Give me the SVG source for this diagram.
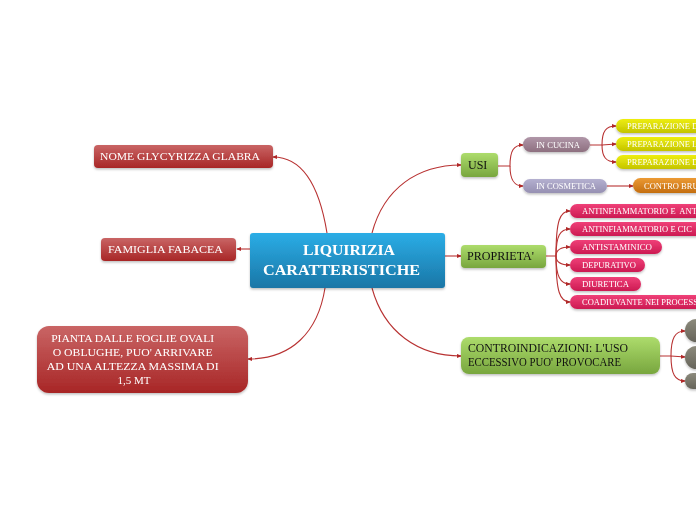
<svg xmlns="http://www.w3.org/2000/svg" width="696" height="520" viewBox="0 0 696 520">
<defs>
<linearGradient id="gBlue" x1="0" y1="0" x2="0" y2="1"><stop offset="0" stop-color="#2bade6"/><stop offset="1" stop-color="#1a76a6"/></linearGradient>
<linearGradient id="gRed" x1="0" y1="0" x2="0" y2="1"><stop offset="0" stop-color="#c96565"/><stop offset="1" stop-color="#a82626"/></linearGradient>
<linearGradient id="gGreen" x1="0" y1="0" x2="0" y2="1"><stop offset="0" stop-color="#addc6c"/><stop offset="1" stop-color="#78a63e"/></linearGradient>
<linearGradient id="gMauve" x1="0" y1="0" x2="0" y2="1"><stop offset="0" stop-color="#b096a8"/><stop offset="1" stop-color="#8e7080"/></linearGradient>
<linearGradient id="gLav" x1="0" y1="0" x2="0" y2="1"><stop offset="0" stop-color="#b4b0d0"/><stop offset="1" stop-color="#9690b2"/></linearGradient>
<linearGradient id="gYel" x1="0" y1="0" x2="0" y2="1"><stop offset="0" stop-color="#eeee10"/><stop offset="1" stop-color="#c4c400"/></linearGradient>
<linearGradient id="gOr" x1="0" y1="0" x2="0" y2="1"><stop offset="0" stop-color="#ec9a34"/><stop offset="1" stop-color="#c46e10"/></linearGradient>
<linearGradient id="gPink" x1="0" y1="0" x2="0" y2="1"><stop offset="0" stop-color="#ef4078"/><stop offset="1" stop-color="#cc1a52"/></linearGradient>
<linearGradient id="gGray" x1="0" y1="0" x2="0" y2="1"><stop offset="0" stop-color="#8c8a7c"/><stop offset="1" stop-color="#66645a"/></linearGradient>
<filter id="sh" x="-10%" y="-20%" width="120%" height="160%"><feDropShadow dx="0" dy="1.5" stdDeviation="1" flood-color="#000" flood-opacity="0.25"/></filter>
<marker id="arr" viewBox="0 0 6 6" refX="5" refY="3" markerWidth="5" markerHeight="5" orient="auto" markerUnits="userSpaceOnUse"><path d="M0,0.5 L6,3 L0,5.5 z" fill="#b02828"/></marker>
</defs>
<style>
.c{fill:none;stroke:#b83232;stroke-width:1.1;marker-end:url(#arr)}
.t{font-family:"Liberation Serif","DejaVu Serif",serif}
.w{fill:#fff}
.k{fill:#111}
.s{font-size:8.5px}
.m{font-size:11px}
</style>
<rect width="696" height="520" fill="#fff"/>
<g id="connectors">
<path class="c" d="M327,233 C320,190 305,157 273,157"/>
<path class="c" d="M250,249 L237,249"/>
<path class="c" d="M325,288 C318,332 292,359 248,359"/>
<path class="c" d="M372,233 C384,188 418,165 461,165"/>
<path class="c" d="M445,256 L461,256"/>
<path class="c" d="M372,288 C384,332 418,356 461,356"/>
<path class="c" d="M498,166 L510,166 C510,150 514,145 523,145"/>
<path class="c" d="M510,166 C510,180 514,186 523,186"/>
<path class="c" d="M590,145 L602,145 C602,131 606,126 616,126"/>
<path class="c" d="M602,145 L616,144"/>
<path class="c" d="M602,145 C602,157 606,162 616,162"/>
<path class="c" d="M607,186 L633,186"/>
<path class="c" d="M546,256 L556,256 C556,220 560,211 570,211"/>
<path class="c" d="M556,256 C556,236 560,229 570,229"/>
<path class="c" d="M556,256 C556,250 560,247 570,247"/>
<path class="c" d="M556,256 C556,262 560,265 570,265"/>
<path class="c" d="M556,256 C556,276 560,284 570,284"/>
<path class="c" d="M556,256 C556,292 560,302 570,302"/>
<path class="c" d="M660,356 L671,356 C671,338 675,331 685,331"/>
<path class="c" d="M671,356 L685,357"/>
<path class="c" d="M671,356 C671,374 675,381 685,381"/>
</g>
<g id="central" filter="url(#sh)">
<rect x="250" y="233" width="195" height="55" rx="3" fill="url(#gBlue)"/>
<text class="t w" x="349" y="255" text-anchor="middle" font-size="15" font-weight="bold" textLength="92" lengthAdjust="spacingAndGlyphs">LIQUIRIZIA</text>
<text class="t w" x="263" y="275" font-size="15" font-weight="bold" textLength="157" lengthAdjust="spacingAndGlyphs">CARATTERISTICHE</text>
</g>
<g id="nome" filter="url(#sh)">
<rect x="94" y="145" width="179" height="23" rx="4" fill="url(#gRed)"/>
<text class="t w m" x="100" y="160" textLength="160" lengthAdjust="spacingAndGlyphs">NOME GLYCYRIZZA GLABRA</text>
</g>
<g id="famiglia" filter="url(#sh)">
<rect x="101" y="238" width="135" height="23" rx="4" fill="url(#gRed)"/>
<text class="t w m" x="108" y="253" textLength="115" lengthAdjust="spacingAndGlyphs">FAMIGLIA FABACEA</text>
</g>
<g id="pianta" filter="url(#sh)">
<rect x="37" y="326" width="211" height="67" rx="12" fill="url(#gRed)"/>
<text class="t w m" text-anchor="middle">
<tspan x="134" y="342" textLength="163" lengthAdjust="spacingAndGlyphs">PIANTA DALLE FOGLIE OVALI</tspan>
<tspan x="134" y="356" textLength="160" lengthAdjust="spacingAndGlyphs">O  OBLUGHE, PUO' ARRIVARE</tspan>
<tspan x="134" y="370" textLength="172" lengthAdjust="spacingAndGlyphs">AD UNA ALTEZZA MASSIMA DI</tspan>
<tspan x="134" y="384" textLength="33" lengthAdjust="spacingAndGlyphs">1,5 MT</tspan>
</text>
</g>
<g id="usi" filter="url(#sh)">
<rect x="461" y="153" width="37" height="24" rx="4" fill="url(#gGreen)"/>
<text class="t k" x="468" y="169" font-size="12">USI</text>
</g>
<g id="proprieta" filter="url(#sh)">
<rect x="461" y="245" width="85" height="23" rx="4" fill="url(#gGreen)"/>
<text class="t k" x="467" y="260" font-size="12" textLength="67" lengthAdjust="spacingAndGlyphs">PROPRIETA'</text>
</g>
<g id="controindicazioni" filter="url(#sh)">
<rect x="461" y="337" width="199" height="37" rx="8" fill="url(#gGreen)"/>
<text class="t k" font-size="12">
<tspan x="468" y="352" textLength="160" lengthAdjust="spacingAndGlyphs">CONTROINDICAZIONI: L'USO</tspan>
<tspan x="468" y="366" textLength="153" lengthAdjust="spacingAndGlyphs">ECCESSIVO PUO' PROVOCARE</tspan>
</text>
</g>
<g id="in-cucina" filter="url(#sh)">
<rect x="523" y="137" width="67" height="15" rx="7.5" fill="url(#gMauve)"/>
<text class="t w s" x="536" y="148" textLength="44" lengthAdjust="spacingAndGlyphs">IN CUCINA</text>
</g>
<g id="in-cosmetica" filter="url(#sh)">
<rect x="523" y="179" width="84" height="14" rx="7" fill="url(#gLav)"/>
<text class="t w s" x="536" y="189" textLength="60" lengthAdjust="spacingAndGlyphs">IN COSMETICA</text>
</g>
<g id="prep1" filter="url(#sh)">
<rect x="616" y="119" width="100" height="14" rx="7" fill="url(#gYel)"/>
<text class="t w s" x="627" y="129">PREPARAZIONE D</text>
</g>
<g id="prep2" filter="url(#sh)">
<rect x="616" y="137" width="100" height="14" rx="7" fill="url(#gYel)"/>
<text class="t w s" x="627" y="147">PREPARAZIONE L</text>
</g>
<g id="prep3" filter="url(#sh)">
<rect x="616" y="155" width="100" height="14" rx="7" fill="url(#gYel)"/>
<text class="t w s" x="627" y="165">PREPARAZIONE D</text>
</g>
<g id="contro-bru" filter="url(#sh)">
<rect x="633" y="178" width="100" height="15" rx="7.5" fill="url(#gOr)"/>
<text class="t w s" x="644" y="189">CONTRO BRU</text>
</g>
<g id="p1" filter="url(#sh)">
<rect x="570" y="204" width="160" height="14" rx="7" fill="url(#gPink)"/>
<text class="t w s" x="582" y="214" xml:space="preserve">ANTINFIAMMATORIO E  ANT</text>
</g>
<g id="p2" filter="url(#sh)">
<rect x="570" y="222" width="160" height="14" rx="7" fill="url(#gPink)"/>
<text class="t w s" x="582" y="232">ANTINFIAMMATORIO E CIC</text>
</g>
<g id="p3" filter="url(#sh)">
<rect x="570" y="240" width="92" height="14" rx="7" fill="url(#gPink)"/>
<text class="t w s" x="582" y="250" textLength="70" lengthAdjust="spacingAndGlyphs">ANTISTAMINICO</text>
</g>
<g id="p4" filter="url(#sh)">
<rect x="570" y="258" width="75" height="14" rx="7" fill="url(#gPink)"/>
<text class="t w s" x="582" y="268" textLength="54" lengthAdjust="spacingAndGlyphs">DEPURATIVO</text>
</g>
<g id="p5" filter="url(#sh)">
<rect x="570" y="277" width="71" height="14" rx="7" fill="url(#gPink)"/>
<text class="t w s" x="582" y="287" textLength="47" lengthAdjust="spacingAndGlyphs">DIURETICA</text>
</g>
<g id="p6" filter="url(#sh)">
<rect x="570" y="295" width="160" height="14" rx="7" fill="url(#gPink)"/>
<text class="t w s" x="582" y="305">COADIUVANTE NEI PROCESS</text>
</g>
<g id="g1" filter="url(#sh)">
<rect x="685" y="319" width="40" height="23" rx="11.5" fill="url(#gGray)"/>
</g>
<g id="g2" filter="url(#sh)">
<rect x="685" y="346" width="40" height="23" rx="11.5" fill="url(#gGray)"/>
</g>
<g id="g3" filter="url(#sh)">
<rect x="685" y="373" width="40" height="16" rx="8" fill="url(#gGray)"/>
</g>
</svg>
